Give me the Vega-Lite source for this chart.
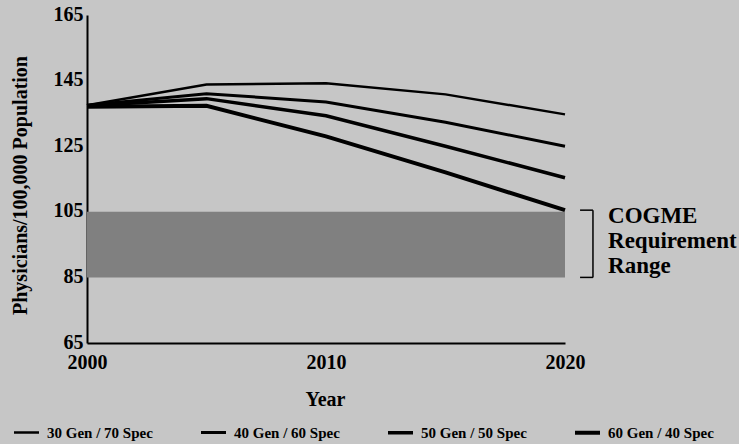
{
  "$schema": "https://vega.github.io/schema/vega-lite/v6.json",
  "width": 478,
  "height": 328,
  "autosize": {"type": "none"},
  "padding": {"left": 87, "top": 15, "right": 174, "bottom": 101},
  "background": "#c6c6c6",
  "config": {
    "font": "Liberation Serif",
    "text": {"font": "Liberation Serif"},
    "view": {"stroke": null},
    "axis": {"grid": false, "ticks": false, "domainColor": "black", "domainWidth": 2, "labelColor": "black", "titleColor": "black", "labelFontWeight": "bold", "titleFontWeight": "bold", "labelFont": "Liberation Serif", "titleFont": "Liberation Serif"}
  },
  "layer": [
    {
      "data": {"values": [{"from": 2000, "to": 2020, "low": 85, "high": 105}]},
      "mark": {"type": "rect", "color": "#808080"},
      "encoding": {
        "x": {"field": "from", "type": "quantitative"},
        "x2": {"field": "to"},
        "y": {"field": "low", "type": "quantitative"},
        "y2": {"field": "high"}
      }
    },
    {
      "data": {"values": [
        {"scenario": "30 Gen / 70 Spec", "year": 2000, "rate": 137.5},
        {"scenario": "30 Gen / 70 Spec", "year": 2005, "rate": 143.8},
        {"scenario": "30 Gen / 70 Spec", "year": 2010, "rate": 144.2},
        {"scenario": "30 Gen / 70 Spec", "year": 2015, "rate": 140.8},
        {"scenario": "30 Gen / 70 Spec", "year": 2020, "rate": 134.7},
        {"scenario": "40 Gen / 60 Spec", "year": 2000, "rate": 137.5},
        {"scenario": "40 Gen / 60 Spec", "year": 2005, "rate": 141.0},
        {"scenario": "40 Gen / 60 Spec", "year": 2010, "rate": 138.5},
        {"scenario": "40 Gen / 60 Spec", "year": 2015, "rate": 132.3},
        {"scenario": "40 Gen / 60 Spec", "year": 2020, "rate": 125.0},
        {"scenario": "50 Gen / 50 Spec", "year": 2000, "rate": 137.3},
        {"scenario": "50 Gen / 50 Spec", "year": 2005, "rate": 139.5},
        {"scenario": "50 Gen / 50 Spec", "year": 2010, "rate": 134.3},
        {"scenario": "50 Gen / 50 Spec", "year": 2015, "rate": 125.0},
        {"scenario": "50 Gen / 50 Spec", "year": 2020, "rate": 115.4},
        {"scenario": "60 Gen / 40 Spec", "year": 2000, "rate": 137.0},
        {"scenario": "60 Gen / 40 Spec", "year": 2005, "rate": 137.3},
        {"scenario": "60 Gen / 40 Spec", "year": 2010, "rate": 128.0},
        {"scenario": "60 Gen / 40 Spec", "year": 2015, "rate": 117.0},
        {"scenario": "60 Gen / 40 Spec", "year": 2020, "rate": 105.5}
      ]},
      "mark": {"type": "line", "color": "black"},
      "encoding": {
        "x": {
          "field": "year", "type": "quantitative",
          "scale": {"domain": [2000, 2020], "nice": false, "zero": false},
          "axis": {"values": [2000, 2010, 2020], "format": "d", "title": "Year", "labelFontSize": 20, "labelBaseline": "alphabetic", "labelPadding": 25, "titleFontSize": 20, "titleBaseline": "alphabetic", "titleX": 238, "titleY": 62, "labelFlush": false}
        },
        "y": {
          "field": "rate", "type": "quantitative",
          "scale": {"domain": [65, 165], "nice": false, "zero": false},
          "axis": {"values": [65, 85, 105, 125, 145, 165], "title": "Physicians/100,000 Population", "labelFontSize": 20, "labelPadding": 4, "labelOffset": -1, "titleFontSize": 20, "titleBaseline": "alphabetic", "titleX": -61, "titleY": 170, "labelFlush": false}
        },
        "strokeWidth": {
          "field": "scenario", "type": "ordinal",
          "scale": {"domain": ["30 Gen / 70 Spec", "40 Gen / 60 Spec", "50 Gen / 50 Spec", "60 Gen / 40 Spec"], "range": [2.5, 4, 5.5, 7.5]},
          "legend": {
            "title": null, "orient": "none", "legendX": -75, "legendY": 403,
            "direction": "horizontal", "columns": 4, "gridAlign": "all", "columnPadding": 40,
            "symbolType": "stroke", "symbolSize": 625, "symbolStrokeColor": "black",
            "labelFontSize": 15, "labelFontWeight": "bold", "labelColor": "black", "labelOffset": 6, "labelLimit": 200, "labelFont": "Liberation Serif"
          }
        },
        "detail": {"field": "scenario"}
      }
    },
    {
      "data": {"values": [{"edge": 2021.17, "low": 85, "high": 105.5}]},
      "mark": {"type": "rule", "color": "black", "strokeWidth": 1.5},
      "encoding": {
        "x": {"field": "edge", "type": "quantitative"},
        "y": {"field": "low", "type": "quantitative"},
        "y2": {"field": "high"}
      }
    },
    {
      "data": {"values": [{"from": 2020.63, "to": 2021.17, "level": 105.5}, {"from": 2020.63, "to": 2021.17, "level": 85}]},
      "mark": {"type": "rule", "color": "black", "strokeWidth": 1.5},
      "encoding": {
        "x": {"field": "from", "type": "quantitative"},
        "x2": {"field": "to"},
        "y": {"field": "level", "type": "quantitative"}
      }
    },
    {
      "data": {"values": [{"x": 2021.8, "y": 101.6, "label": "COGME"}]},
      "mark": {"type": "text", "text": ["COGME", "Requirement", "Range"], "align": "left", "baseline": "alphabetic", "fontSize": 23, "fontWeight": "bold", "font": "Liberation Serif", "lineHeight": 25, "color": "black"},
      "encoding": {
        "x": {"field": "x", "type": "quantitative"},
        "y": {"field": "y", "type": "quantitative"}
      }
    }
  ]
}
